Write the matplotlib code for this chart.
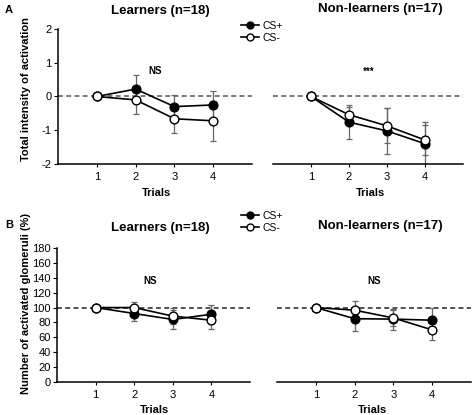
import matplotlib
matplotlib.use("Agg")
import matplotlib.pyplot as plt
from matplotlib.lines import Line2D

plt.rcParams['font.family'] = ['Liberation Sans', 'DejaVu Sans']
plt.rcParams['axes.unicode_minus'] = False

trials = [1, 2, 3, 4]
# Panel A: total intensity of activation
a_learn_csp = [0, 0.22, -0.30, -0.25]
a_learn_csp_err = [0, 0.42, 0.35, 0.41]
a_learn_csm = [0, -0.10, -0.66, -0.72]
a_learn_csm_err = [0, 0.41, 0.42, 0.59]
a_non_csp = [0, -0.76, -1.02, -1.40]
a_non_csp_err = [0, 0.51, 0.68, 0.65]
a_non_csm = [0, -0.54, -0.87, -1.29]
a_non_csm_err = [0, 0.24, 0.52, 0.45]
# Panel B: number of activated glomeruli (%)
b_learn_csp = [100, 92, 84, 91]
b_learn_csp_err = [0, 10, 13, 13]
b_learn_csm = [100, 100, 88.5, 83]
b_learn_csm_err = [0, 7, 11, 12]
b_non_csp = [100, 85, 84.5, 83]
b_non_csp_err = [0, 16, 14, 17]
b_non_csm = [100, 96.5, 86, 70]
b_non_csm_err = [0, 12, 11, 14]

a_yticks = [-2, -1, 0, 1, 2]
b_yticks = list(range(0, 181, 20))

W, H = 472, 415
fig = plt.figure(figsize=(W / 100, H / 100), dpi=100)

def rect(x0, x1, ytop, ybot):
    return [x0 / W, 1 - ybot / H, (x1 - x0) / W, (ybot - ytop) / H]

axA1 = fig.add_axes(rect(58, 252, 29, 164))
axA2 = fig.add_axes(rect(273, 463, 29, 164))
axB1 = fig.add_axes(rect(57, 250, 248, 382))
axB2 = fig.add_axes(rect(277, 471, 248, 382))

def draw(ax, csp, csp_err, csm, csm_err, ref, dcol):
    ax.axhline(ref, color=dcol, lw=1.1, ls=(0, (3.2, 2.2)), zorder=1)
    ax.errorbar(trials, csp, yerr=csp_err, fmt='none', ecolor='#666666',
                elinewidth=0.9, capsize=2.2, capthick=0.9, zorder=2)
    ax.errorbar(trials, csm, yerr=csm_err, fmt='none', ecolor='#666666',
                elinewidth=0.9, capsize=2.2, capthick=0.9, zorder=2)
    ax.plot(trials, csp, color='black', lw=1.2, marker='o', ms=6.3,
            mfc='black', mec='black', mew=1.0, zorder=3, clip_on=False)
    ax.plot(trials, csm, color='black', lw=1.2, marker='o', ms=6.3,
            mfc='white', mec='black', mew=1.0, zorder=4, clip_on=False)
    ax.set_xlim(0, 5)
    ax.set_xticks(trials)
    ax.set_xticklabels([str(t) for t in trials], fontsize=8)
    for s in ['top', 'right']:
        ax.spines[s].set_visible(False)
    ax.spines['bottom'].set_linewidth(1.1)
    ax.spines['left'].set_linewidth(1.1)
    ax.tick_params(axis='x', length=2.5, width=0.8, pad=3)
    ax.tick_params(axis='y', length=3, width=0.8, pad=1.5, labelsize=8)

draw(axA1, a_learn_csp, a_learn_csp_err, a_learn_csm, a_learn_csm_err, 0, '#555555')
draw(axA2, a_non_csp, a_non_csp_err, a_non_csm, a_non_csm_err, 0, '#555555')
draw(axB1, b_learn_csp, b_learn_csp_err, b_learn_csm, b_learn_csm_err, 100, '#222222')
draw(axB2, b_non_csp, b_non_csp_err, b_non_csm, b_non_csm_err, 100, '#222222')

for ax in (axA1, axA2):
    ax.set_ylim(-2, 2)
    ax.set_yticks(a_yticks)
for ax in (axB1, axB2):
    ax.set_ylim(0, 180)
    ax.set_yticks(b_yticks)
for ax in (axA2, axB2):
    ax.spines['left'].set_visible(False)
    ax.tick_params(axis='y', left=False, labelleft=False)

# significance labels
axA1.text(2.5, 0.75, 'NS', ha='center', va='center', fontsize=7, fontweight='bold')
axA2.text(2.52, 0.72, '***', ha='center', va='center', fontsize=7, fontweight='bold')
axB1.text(2.4, 136, 'NS', ha='center', va='center', fontsize=7, fontweight='bold')
axB2.text(2.5, 136, 'NS', ha='center', va='center', fontsize=7, fontweight='bold')

def ft(x, y, s, **kw):
    fig.text(x / W, 1 - y / H, s, **kw)

tkw = dict(ha='center', va='center', fontsize=9.5, fontweight='bold')
ft(160, 11, 'Learners (n=18)', **tkw)
ft(380, 9, 'Non-learners (n=17)', **tkw)
ft(160, 228, 'Learners (n=18)', **tkw)
ft(380, 226, 'Non-learners (n=17)', **tkw)

xkw = dict(ha='center', va='center', fontsize=8, fontweight='bold')
ft(157, 193, 'Trials', **xkw)
ft(370, 193, 'Trials', **xkw)
ft(155, 410, 'Trials', **xkw)
ft(373, 410, 'Trials', **xkw)

ykw = dict(ha='center', va='center', fontsize=8, fontweight='bold', rotation=90)
ft(26, 89, 'Total intensity of activation', **ykw)
ft(26, 303, 'Number of activated glomeruli (%)', **ykw)

ft(9, 10, 'A', ha='center', va='center', fontsize=8, fontweight='bold')
ft(9, 225, 'B', ha='center', va='center', fontsize=8, fontweight='bold')

handles = [
    Line2D([], [], color='black', lw=1.2, marker='o', ms=5, mfc='black', mec='black'),
    Line2D([], [], color='black', lw=1.2, marker='o', ms=5, mfc='white', mec='black'),
]
for ytop in (21, 211):
    fig.legend(handles, ['CS+', 'CS-'], loc='upper left',
               bbox_to_anchor=(241 / W, 1 - ytop / H), frameon=False,
               fontsize=7.5, handlelength=1.7, handletextpad=0.35,
               labelspacing=0.2, borderpad=0, borderaxespad=0)

fig.savefig('out.png', dpi=100)
